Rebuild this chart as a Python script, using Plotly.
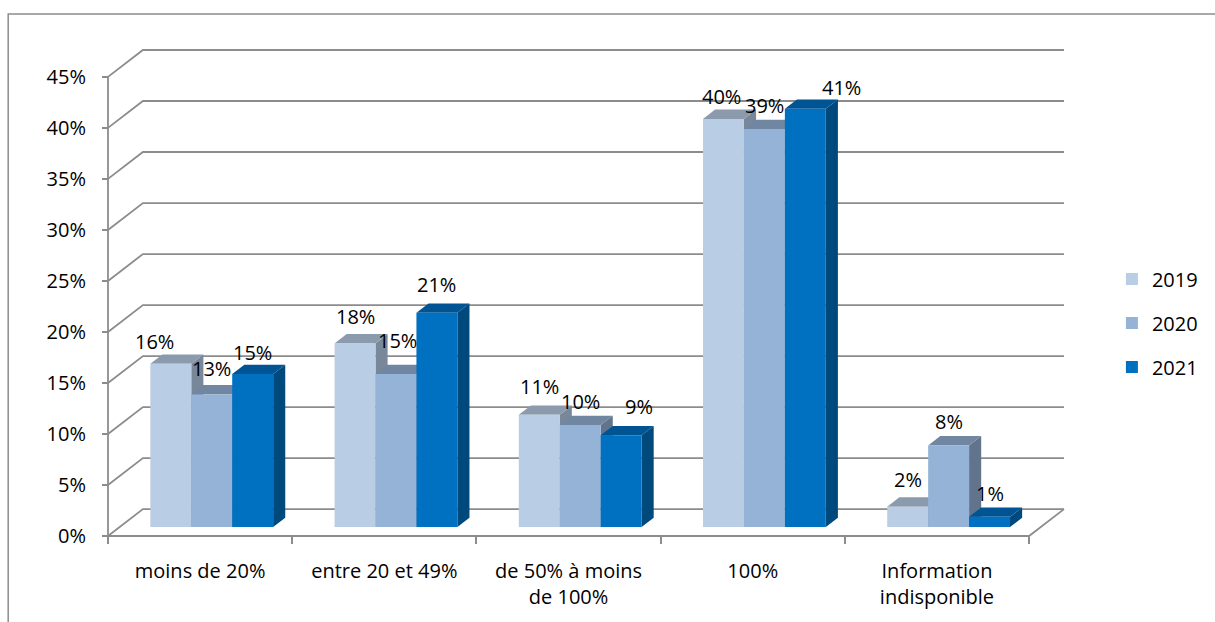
import plotly.graph_objects as go

# ---- data -------------------------------------------------------------
categories = [
    "moins de 20%",
    "entre 20 et 49%",
    "de 50% à moins<br>de 100%",
    "100%",
    "Information<br>indisponible",
]
years = ["2019", "2020", "2021"]
values_2019 = [16, 18, 11, 40, 2]
values_2020 = [13, 15, 10, 39, 8]
values_2021 = [15, 21, 9, 41, 1]
y_tick_values = [0, 5, 10, 15, 20, 25, 30, 35, 40, 45]
y_tick_labels = [f"{v}%" for v in y_tick_values]

series_values = [values_2019, values_2020, values_2021]

# ---- styling ----------------------------------------------------------
FONT = "Open Sans"
TEXT_COLOR = "#000000"
GRID_COLOR = "#8c8c8c"
FACE_COLORS = [  # (front, top, side) per year
    ("#B9CDE5", "#8B9AAC", "#78879A"),
    ("#95B3D7", "#7086A1", "#61748C"),
    ("#0070C0", "#005494", "#00497D"),
]
# small nudges (pixels) for a few value labels
LABEL_XSHIFT = [[-16, 0, 0, -2, 0], [0, 2, 0, 0, 0], [0, 0, 18, 36, 0]]
LABEL_YSHIFT = [[-3, 2, 3, -3, 2], [1, 9, -1, -1, -1], [-3, 3, 4, -4, -2]]

# ---- pseudo-3D geometry (pixel layout of the box) ----------------------
W, H = 1215, 622
AXIS_X_PX = 108          # front vertical axis
FRONT_RIGHT_PX = 1031    # front-right floor corner
ZERO_PX = 538            # 0 % on the front plane
TOP_PX = 77              # 45 % on the front plane
DEPTH_DX_PX = 35         # horizontal shift front -> back wall
DEPTH_DY_PX = 27         # vertical shift front -> back wall
PAD = 6

n_cat = len(categories)
px_per_cat = (FRONT_RIGHT_PX - AXIS_X_PX) / n_cat
px_per_pct = (ZERO_PX - TOP_PX) / 45.0
DX = DEPTH_DX_PX / px_per_cat
DY = DEPTH_DY_PX / px_per_pct
Y_MAX = y_tick_values[-1]

plot_left = AXIS_X_PX - PAD
plot_right = FRONT_RIGHT_PX + DEPTH_DX_PX + PAD
plot_bottom = ZERO_PX + PAD
plot_top = TOP_PX - DEPTH_DY_PX - PAD

x_range = [-PAD / px_per_cat, n_cat + DX + PAD / px_per_cat]
y_range = [-PAD / px_per_pct, Y_MAX + DY + PAD / px_per_pct]

# bar layout: cluster takes 2/3 of a category; bars sit between two depths
CLUSTER = 2.0 / 3.0
BAR_W = CLUSTER / len(years)
D_FRONT, D_BACK = 1.0 / 3.0, 0.68

fig = go.Figure()


def add_line(xs, ys, color=GRID_COLOR, width=1.8):
    fig.add_trace(go.Scatter(x=xs, y=ys, mode="lines",
                             line=dict(color=color, width=width),
                             hoverinfo="skip", showlegend=False))


def add_face(xs, ys, color):
    fig.add_trace(go.Scatter(x=xs + [xs[0]], y=ys + [ys[0]], mode="lines",
                             fill="toself", fillcolor=color,
                             line=dict(width=0, color=color),
                             hoverinfo="skip", showlegend=False))


# back wall + side wall gridlines
for v in y_tick_values:
    add_line([0, DX, n_cat + DX], [v, v + DY, v + DY])
# floor front edge and right edge
add_line([0, n_cat, n_cat + DX], [0, 0, DY])
# front vertical axis
add_line([0, 0], [0, Y_MAX])

# bars, drawn left to right so neighbours hide each other's side faces
annotations = []
for c in range(n_cat):
    for k in range(len(years)):
        v = series_values[k][c]
        front, top, side = FACE_COLORS[k]
        x0 = c + 0.5 - CLUSTER / 2 + k * BAR_W
        x1 = x0 + BAR_W
        fx0, fx1 = x0 + D_FRONT * DX, x1 + D_FRONT * DX
        bx0, bx1 = x0 + D_BACK * DX, x1 + D_BACK * DX
        fy, by = D_FRONT * DY, D_BACK * DY
        add_face([fx1, bx1, bx1, fx1], [fy, by, v + by, v + fy], side)
        add_face([fx0, fx1, bx1, bx0], [v + fy, v + fy, v + by, v + by], top)
        add_face([fx0, fx1, fx1, fx0], [fy, fy, v + fy, v + fy], front)
        annotations.append(dict(
            x=(fx0 + fx1) / 2, y=v + fy, xref="x", yref="y",
            text=f"{v}%", showarrow=False,
            xanchor="center", yanchor="middle",
            xshift=LABEL_XSHIFT[k][c], yshift=25 + LABEL_YSHIFT[k][c],
            font=dict(family=FONT, size=20, color=TEXT_COLOR)))

# legend entries
for k, year in enumerate(years):
    fig.add_trace(go.Scatter(x=[None], y=[None], mode="markers", name=year,
                             legendgroup=year,
                             marker=dict(symbol="square", size=12,
                                         color=FACE_COLORS[k][0],
                                         line=dict(width=0))))

pw = plot_right - plot_left
ph = plot_bottom - plot_top


def paper_x(px):
    return (px - plot_left) / pw


def paper_y(py):
    return (plot_bottom - py) / ph


# outer chart frame
shapes = [dict(type="rect", xref="paper", yref="paper",
               x0=paper_x(8), x1=paper_x(W + 10),
               y0=paper_y(H + 10), y1=paper_y(14),
               line=dict(color="#8c8c8c", width=1.5), layer="below")]

fig.update_layout(
    width=W, height=H, autosize=False,
    margin=dict(l=plot_left, r=W - plot_right, t=plot_top, b=H - plot_bottom),
    paper_bgcolor="white", plot_bgcolor="white",
    font=dict(family=FONT, size=20, color=TEXT_COLOR),
    showlegend=True,
    legend=dict(x=paper_x(1114), y=paper_y(324), xanchor="left",
                yanchor="middle", tracegroupgap=15,
                font=dict(family=FONT, size=20, color=TEXT_COLOR),
                bgcolor="rgba(0,0,0,0)"),
    annotations=annotations,
    shapes=shapes,
    xaxis=dict(range=x_range, showgrid=False, zeroline=False, showline=False,
               anchor="free", position=paper_y(ZERO_PX),
               tickmode="array",
               tickvals=[c + 0.5 for c in range(n_cat)],
               ticktext=categories, ticks="",
               ticklabelstandoff=21,
               minor=dict(tickmode="array",
                          tickvals=list(range(n_cat + 1)),
                          ticks="outside", ticklen=7, tickwidth=1.8,
                          tickcolor=GRID_COLOR, showgrid=False),
               fixedrange=True),
    yaxis=dict(range=y_range, showgrid=False, zeroline=False, showline=False,
               anchor="free", position=paper_x(AXIS_X_PX),
               tickmode="array", tickvals=y_tick_values,
               ticktext=y_tick_labels, ticks="outside", ticklen=6,
               tickwidth=1.8, tickcolor=GRID_COLOR,
               ticklabelstandoff=12, fixedrange=True),
)

fig.write_html("out.html")
